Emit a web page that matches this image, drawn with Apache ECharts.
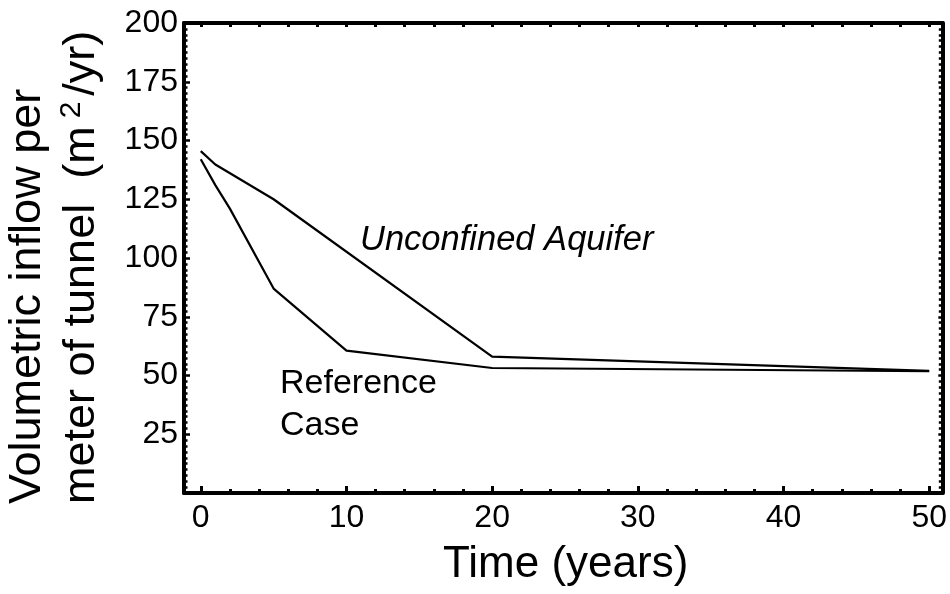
<!DOCTYPE html>
<html>
<head>
<meta charset="utf-8">
<script src="https://cdn.jsdelivr.net/npm/echarts@6/dist/echarts.min.js"></script>
<style>html,body{margin:0;padding:0;background:#fff}#c{width:950px;height:594px}</style>
</head>
<body>
<div id="c"></div>
<script>
// Data
const unconfinedX = [0, 1, 5, 20, 50];
const unconfinedY = [145.5, 139.8, 125, 58, 52];
const referenceX = [0, 1, 2, 5, 10, 20, 50];
const referenceY = [142, 131, 121, 87, 60.6, 53.2, 51.8];
const xTickLabels = [0, 10, 20, 30, 40, 50];
const xMinorTicks = [2, 4, 6, 8, 12, 14, 16, 18, 22, 24, 26, 28, 32, 34, 36, 38, 42, 44, 46, 48];
const xTopTicks = [0, 2, 4, 6, 8, 10, 12, 14, 16, 18, 20, 22, 24, 26, 28, 30, 32, 34, 36, 38, 40, 42, 44, 46, 48, 50];
const yTickLabels = [25, 50, 75, 100, 125, 150, 175, 200];

const FONT = '"Liberation Sans", Arial, sans-serif';
const pairs = (xs, ys) => xs.map((x, i) => [x, ys[i]]);

const chart = echarts.init(document.getElementById('c'), null, {renderer: 'canvas'});
const black = '#000';
const baseX = {
  type: 'value', min: -1.15, max: 50.9,
  splitLine: {show: false}
};
chart.setOption({
  animation: false,
  backgroundColor: '#fff',
  grid: {left: 184, right: 7, top: 23, bottom: 101, containLabel: false},
  xAxis: [
    Object.assign({}, baseX, {
      position: 'bottom',
      axisLine: {show: true, onZero: false, lineStyle: {color: black, width: 4}},
      axisTick: {show: true, inside: true, length: 7, customValues: xTickLabels, lineStyle: {color: black, width: 3}},
      axisLabel: {show: true, customValues: xTickLabels, color: black, fontSize: 32, fontFamily: FONT, margin: 9},
      name: 'Time (years)', nameLocation: 'middle', nameGap: 50,
      nameTextStyle: {color: black, fontSize: 44, fontFamily: FONT, padding: [0, 0, 0, 5]}
    }),
    Object.assign({}, baseX, {
      position: 'bottom',
      axisLine: {show: false, onZero: false},
      axisTick: {show: true, inside: true, length: 4, customValues: xMinorTicks, lineStyle: {color: black, width: 3}},
      axisLabel: {show: false}
    }),
    Object.assign({}, baseX, {
      position: 'top',
      axisLine: {show: true, onZero: false, lineStyle: {color: black, width: 4}},
      axisTick: {show: true, inside: true, length: 4, customValues: xTopTicks, lineStyle: {color: black, width: 3}},
      axisLabel: {show: false}
    })
  ],
  yAxis: [
    {
      type: 'value', min: 0, max: 200, interval: 25, position: 'left',
      splitLine: {show: false},
      axisLine: {show: true, onZero: false, lineStyle: {color: black, width: 4}},
      axisTick: {show: true, inside: true, length: 6, lineStyle: {color: black, width: 2.5}},
      minorTick: {show: true, splitNumber: 10, length: 3.5, lineStyle: {color: black, width: 2.5}},
      minorSplitLine: {show: false},
      axisLabel: {show: true, customValues: yTickLabels, color: black, fontSize: 32, fontFamily: FONT, margin: 6}
    },
    {
      type: 'value', min: 0, max: 200, interval: 25, position: 'right',
      splitLine: {show: false},
      axisLine: {show: true, onZero: false, lineStyle: {color: black, width: 4}},
      axisTick: {show: true, inside: true, length: 4, lineStyle: {color: black, width: 2.5}},
      minorTick: {show: true, splitNumber: 10, length: 3.5, lineStyle: {color: black, width: 2.5}},
      minorSplitLine: {show: false},
      axisLabel: {show: false}
    }
  ],
  series: [
    {
      name: 'Unconfined Aquifer', type: 'line', xAxisIndex: 0, yAxisIndex: 0,
      data: pairs(unconfinedX, unconfinedY), symbol: 'none', smooth: false,
      lineStyle: {color: black, width: 2.2}
    },
    {
      name: 'Reference Case', type: 'line', xAxisIndex: 0, yAxisIndex: 0,
      data: pairs(referenceX, referenceY), symbol: 'none', smooth: false,
      lineStyle: {color: black, width: 2.2}
    }
  ],
  graphic: [
    {type: 'text', x: 360, y: 240, style: {text: 'Unconfined Aquifer', fill: black, font: 'italic 34.5px ' + FONT, align: 'left', verticalAlign: 'middle'}},
    {type: 'text', x: 280, y: 384, style: {text: 'Reference', fill: black, font: '34px ' + FONT, align: 'left', verticalAlign: 'middle'}},
    {type: 'text', x: 280, y: 426, style: {text: 'Case', fill: black, font: '34px ' + FONT, align: 'left', verticalAlign: 'middle'}},
    {type: 'text', x: 28, y: 504, rotation: Math.PI / 2, style: {text: 'Volumetric inflow per', fill: black, font: '45px ' + FONT, align: 'left', verticalAlign: 'middle'}},
    {type: 'text', x: 82, y: 504, rotation: Math.PI / 2, style: {
      text: '{a|meter of tunnel  (m}{s|2}{a|/yr)}', fill: black, align: 'left', verticalAlign: 'middle',
      rich: {
        a: {fontSize: 45, fontFamily: FONT, fill: black, lineHeight: 50},
        s: {fontSize: 30, fontFamily: FONT, fill: black, lineHeight: 50, verticalAlign: 'top', padding: [0, 6, 0, 8]}
      }
    }}
  ]
});
</script>
</body>
</html>
